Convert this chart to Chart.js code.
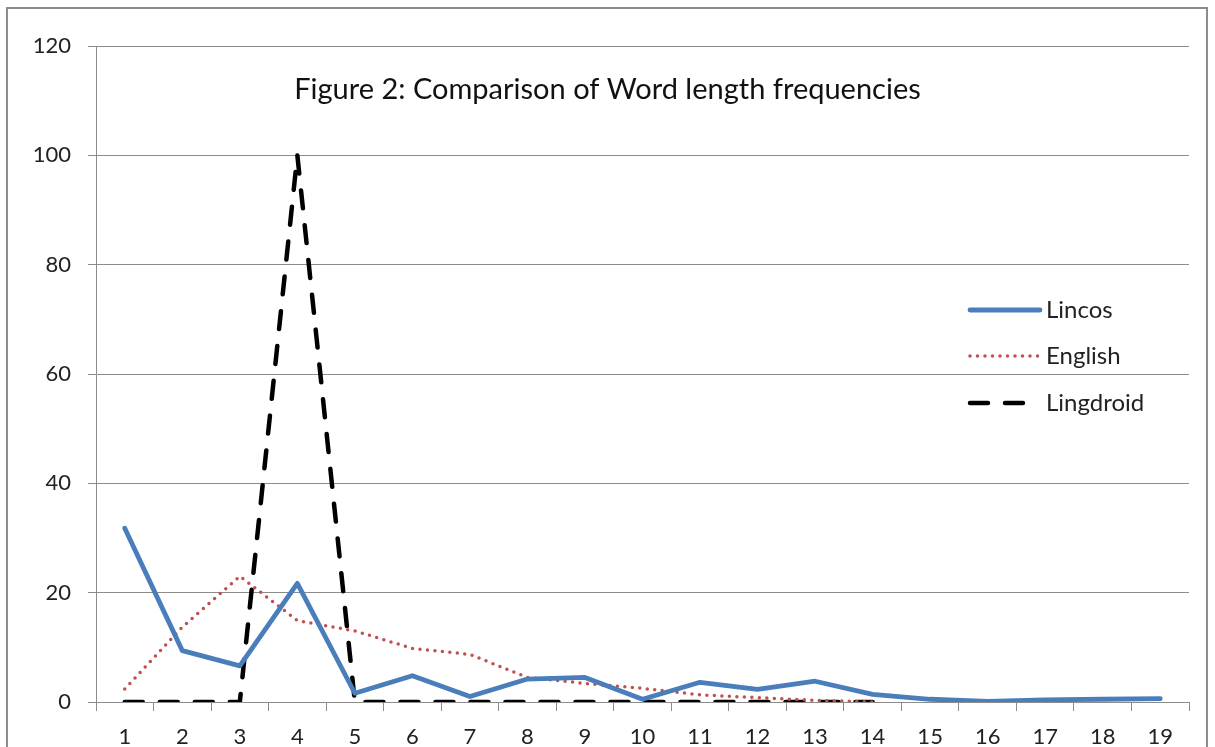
<!DOCTYPE html>
<html>
<head>
<meta charset="utf-8">
<script src="https://cdn.jsdelivr.net/npm/chart.js@4.4.1/dist/chart.umd.min.js"></script>
<style>
  html, body { margin: 0; padding: 0; background: #fff; }
  #wrap { position: relative; width: 1215px; height: 747px; overflow: hidden; }
  #frame { position: absolute; left: 6px; top: 7px; width: 1202px; height: 760px; border: 2px solid #8c8c8c; box-sizing: border-box; }
  canvas { position: absolute; left: 0; top: 0; }
</style>
</head>
<body>
<div id="wrap">
  <div id="frame"></div>
  <canvas id="wordChart" width="1215" height="747"></canvas>
</div>
<script>
const titleText = 'Figure 2: Comparison of Word length frequencies';
const wordLengths = ['1', '2', '3', '4', '5', '6', '7', '8', '9', '10', '11', '12', '13', '14', '15', '16', '17', '18', '19'];
const lincos = [31.8, 9.4, 6.6, 21.7, 1.6, 4.8, 1.0, 4.2, 4.5, 0.5, 3.6, 2.3, 3.8, 1.4, 0.5, 0.1, 0.4, 0.5, 0.6];
const english = [2.4, 13.7, 23, 14.9, 13, 9.8, 8.7, 4.5, 3.4, 2.5, 1.3, 0.8, 0.3, 0];
const lingdroid = [0, 0, 0, 100, 0, 0, 0, 0, 0, 0, 0, 0, 0, 0];

const FONT = 'Lato, "Open Sans", sans-serif';

// title and legend sit inside the plot area, as in the original
const insidePlugin = {
    id: 'inside',
    afterDraw(chart) {
        const c = chart.ctx;
        const area = chart.chartArea;
        c.save();
        c.fillStyle = '#111';
        c.font = '29px ' + FONT;
        c.textAlign = 'center';
        c.textBaseline = 'middle';
        c.fillText(titleText, chart.width / 2, 90);

        c.font = '24px ' + FONT;
        c.textAlign = 'left';
        const rows = [310, 356, 403];
        chart.data.datasets.forEach((ds, i) => {
            const y = rows[i];
            const x0 = area.right - 219;
            c.beginPath();
            c.strokeStyle = ds.borderColor;
            c.lineWidth = ds.borderWidth;
            c.lineCap = ds.borderCapStyle || 'butt';
            c.setLineDash(ds.borderDash || []);
            c.moveTo(x0, y);
            c.lineTo(x0 + 70, y);
            c.stroke();
            c.setLineDash([]);
            c.fillStyle = '#222';
            c.fillText(ds.label, x0 + 76, y);
        });
        c.restore();
    }
};

new Chart(document.getElementById('wordChart'), {
    type: 'line',
    data: {
        labels: wordLengths,
        datasets: [{
            label: 'Lincos',
            data: lincos,
            borderColor: '#4a7ebb',
            borderWidth: 4.8,
            borderCapStyle: 'round',
            borderJoinStyle: 'round'
        }, {
            label: 'English',
            data: english,
            borderColor: '#c0504d',
            borderWidth: 3.5,
            borderDash: [0, 7.5],
            borderCapStyle: 'round'
        }, {
            label: 'Lingdroid',
            data: lingdroid,
            borderColor: '#000',
            borderWidth: 4.5,
            borderDash: [18, 17],
            borderCapStyle: 'round'
        }]
    },
    options: {
        responsive: false,
        animation: false,
        tension: 0,
        elements: { point: { radius: 0, hoverRadius: 0 } },
        layout: { padding: { top: 46, right: 26, left: 0, bottom: 0 } },
        plugins: {
            legend: { display: false },
            title: { display: false },
            tooltip: { enabled: false }
        },
        scales: {
            x: {
                offset: true,
                grid: {
                    offset: true,
                    drawOnChartArea: false,
                    tickLength: 9,
                    color: '#8c8c8c'
                },
                border: { color: '#8c8c8c' },
                ticks: {
                    color: '#222',
                    font: { family: FONT, size: 22 },
                    padding: 13,
                    maxRotation: 0,
                    autoSkip: false
                },
                afterFit(scale) { scale.height = 45; }
            },
            y: {
                min: 0,
                max: 120,
                ticks: {
                    stepSize: 20,
                    color: '#222',
                    font: { family: FONT, size: 22 },
                    padding: 17
                },
                grid: {
                    color: '#8c8c8c',
                    tickLength: 8
                },
                border: { color: '#8c8c8c' },
                afterFit(scale) { scale.width = 96; }
            }
        }
    },
    plugins: [insidePlugin]
});
</script>
</body>
</html>
